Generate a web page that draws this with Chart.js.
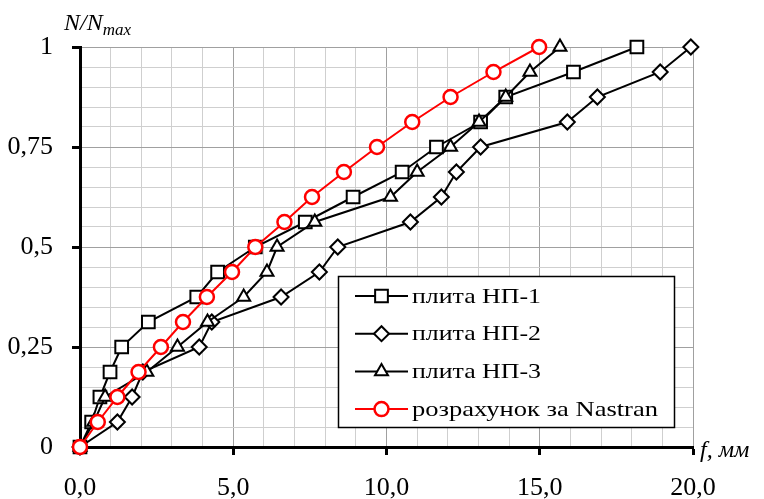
<!DOCTYPE html>
<html>
<head>
<meta charset="utf-8">
<script src="https://cdn.jsdelivr.net/npm/chart.js@4.4.0/dist/chart.umd.min.js"></script>
<style>
  body { margin: 0; background: #fff; }
  canvas { display: block; }
</style>
</head>
<body>
<canvas id="loadChart" width="764" height="499"></canvas>
<script>
// relative load levels N/Nmax (same for every series)
var loadLevels = [0, 0.0625, 0.125, 0.1875, 0.25, 0.3125, 0.375, 0.4375, 0.5,
  0.5625, 0.625, 0.6875, 0.75, 0.8125, 0.875, 0.9375, 1];

// deflection f, mm
var np1Defl = [0, 0.38, 0.65, 0.98, 1.36, 2.23, 3.81, 4.49, 5.72, 7.35, 8.91, 10.51, 11.63, 13.07, 13.89, 16.1, 18.17];
var np2Defl = [0, 1.22, 1.7, 2.05, 3.89, 4.3, 6.56, 7.81, 8.41, 10.78, 11.79, 12.28, 13.07, 15.9, 16.88, 18.93, 19.93];
var np3Defl = [0, 0.45, 0.82, 2.18, 3.18, 4.16, 5.34, 6.1, 6.43, 7.66, 10.13, 11.0, 12.09, 13.02, 13.89, 14.68, 15.66];
var nastranDefl = [0, 0.58, 1.22, 1.91, 2.64, 3.36, 4.14, 4.96, 5.72, 6.67, 7.57, 8.61, 9.69, 10.84, 12.09, 13.49, 14.98];

var seriesNames = ["плита НП-1", "плита НП-2", "плита НП-3", "розрахунок за Nastran"];

var xTickLabels = ["0,0", "5,0", "10,0", "15,0", "20,0"];
var yTickLabels = ["0", "0,25", "0,5", "0,75", "1"];

function toPoints(defl) {
  return defl.map(function (f, i) { return { x: f, y: loadLevels[i] }; });
}

var serif = "'Liberation Serif', 'Times New Roman', serif";

var styles = [
  { color: "#000000", point: "rect", radius: 9, width: 2 },
  { color: "#000000", point: "rectRot", radius: 7.5, width: 2 },
  { color: "#000000", point: "triangle", radius: 7.5, width: 2 },
  { color: "#ff0000", point: "circle", radius: 7, width: 2.5 }
];

var allDefl = [np1Defl, np2Defl, np3Defl, nastranDefl];
var drawOrder = [3, 2, 1, 0];
// legend text widths in the original (text looks stretched)
var legendTextWidth = [129, 129, 129, 246];

var datasets = allDefl.map(function (d, i) {
  return {
    label: seriesNames[i],
    data: toPoints(d),
    showLine: true,
    clip: false,
    borderColor: styles[i].color,
    borderWidth: 2,
    pointStyle: styles[i].point,
    pointRadius: styles[i].radius,
    pointBorderWidth: styles[i].width,
    pointBorderColor: styles[i].color,
    pointBackgroundColor: "#ffffff",
    order: drawOrder[i]
  };
});

function isMajorY(v) { return Math.round(v * 100) % 25 === 0; }
function isMajorX(v) { return Math.round(v) % 5 === 0; }

var extras = {
  id: "extras",
  afterDraw: function (chart) {
    var ctx = chart.ctx;
    ctx.save();
    // axis titles
    ctx.fillStyle = "#000";
    ctx.textBaseline = "alphabetic";
    ctx.textAlign = "left";
    ctx.font = "italic 24px " + serif;
    ctx.fillText("N/N", 64, 30);
    var w = ctx.measureText("N/N").width;
    ctx.font = "italic 17px " + serif;
    ctx.fillText("max", 64 + w, 35);
    ctx.font = "italic 24px " + serif;
    ctx.textBaseline = "middle";
    ctx.fillText("f, мм", 700, 451);

    // legend
    var bx = 338.5, by = 276.5, bw = 336, bh = 151;
    ctx.fillStyle = "#fff";
    ctx.fillRect(bx, by, bw, bh);
    ctx.strokeStyle = "#000";
    ctx.lineWidth = 1.5;
    ctx.strokeRect(bx, by, bw, bh);
    for (var i = 0; i < seriesNames.length; i++) {
      var y = 296 + i * 37.7;
      var s = styles[i];
      ctx.strokeStyle = s.color;
      ctx.lineWidth = 2;
      ctx.beginPath();
      ctx.moveTo(355, y);
      ctx.lineTo(408, y);
      ctx.stroke();
      ctx.fillStyle = "#fff";
      ctx.lineWidth = s.width;
      Chart.helpers.drawPoint(ctx, { pointStyle: s.point, radius: s.radius, rotation: 0, borderWidth: s.width }, 381.5, y);
      ctx.fillStyle = "#000";
      ctx.font = "22px " + serif;
      ctx.textAlign = "left";
      ctx.textBaseline = "middle";
      var tw = ctx.measureText(seriesNames[i]).width;
      ctx.save();
      ctx.translate(412, y + 1);
      ctx.scale(legendTextWidth[i] / tw, 1);
      ctx.fillText(seriesNames[i], 0, 0);
      ctx.restore();
    }
    ctx.restore();
  }
};

new Chart(document.getElementById("loadChart"), {
  type: "scatter",
  data: { datasets: datasets },
  options: {
    responsive: false,
    animation: false,
    layout: { padding: { left: 0, top: 47, right: 71, bottom: 0 } },
    plugins: {
      legend: { display: false },
      tooltip: { enabled: false }
    },
    scales: {
      x: {
        type: "linear",
        min: 0,
        max: 20,
        afterFit: function (scale) { scale.height = 52; },
        ticks: {
          stepSize: 1,
          maxTicksLimit: 1000,
          autoSkip: false,
          maxRotation: 0,
          padding: 18,
          color: "#000",
          font: { family: serif, size: 26 },
          callback: function (v) { return isMajorX(v) ? xTickLabels[Math.round(v) / 5] : ""; }
        },
        grid: {
          color: function (c) { return isMajorX(c.tick.value) ? "#a0a0a0" : "#cfcfcf"; },
          tickColor: function (c) { return isMajorX(c.tick.value) ? "#000" : "rgba(0,0,0,0)"; },
          tickLength: 8,
          tickWidth: 3,
          lineWidth: 1
        },
        border: { display: true, color: "#000", width: 3 }
      },
      y: {
        type: "linear",
        min: 0,
        max: 1,
        afterFit: function (scale) { scale.width = 80; },
        ticks: {
          stepSize: 0.05,
          maxTicksLimit: 1000,
          autoSkip: false,
          padding: 19,
          color: "#000",
          font: { family: serif, size: 26 },
          callback: function (v) { return isMajorY(v) ? yTickLabels[Math.round(v * 4)] : ""; }
        },
        grid: {
          color: function (c) { return isMajorY(c.tick.value) ? "#a0a0a0" : "#cfcfcf"; },
          tickColor: function (c) { return isMajorY(c.tick.value) ? "#000" : "rgba(0,0,0,0)"; },
          tickLength: 8,
          tickWidth: 3,
          lineWidth: 1
        },
        border: { display: true, color: "#000", width: 3 }
      }
    }
  },
  plugins: [extras]
});
</script>
</body>
</html>
